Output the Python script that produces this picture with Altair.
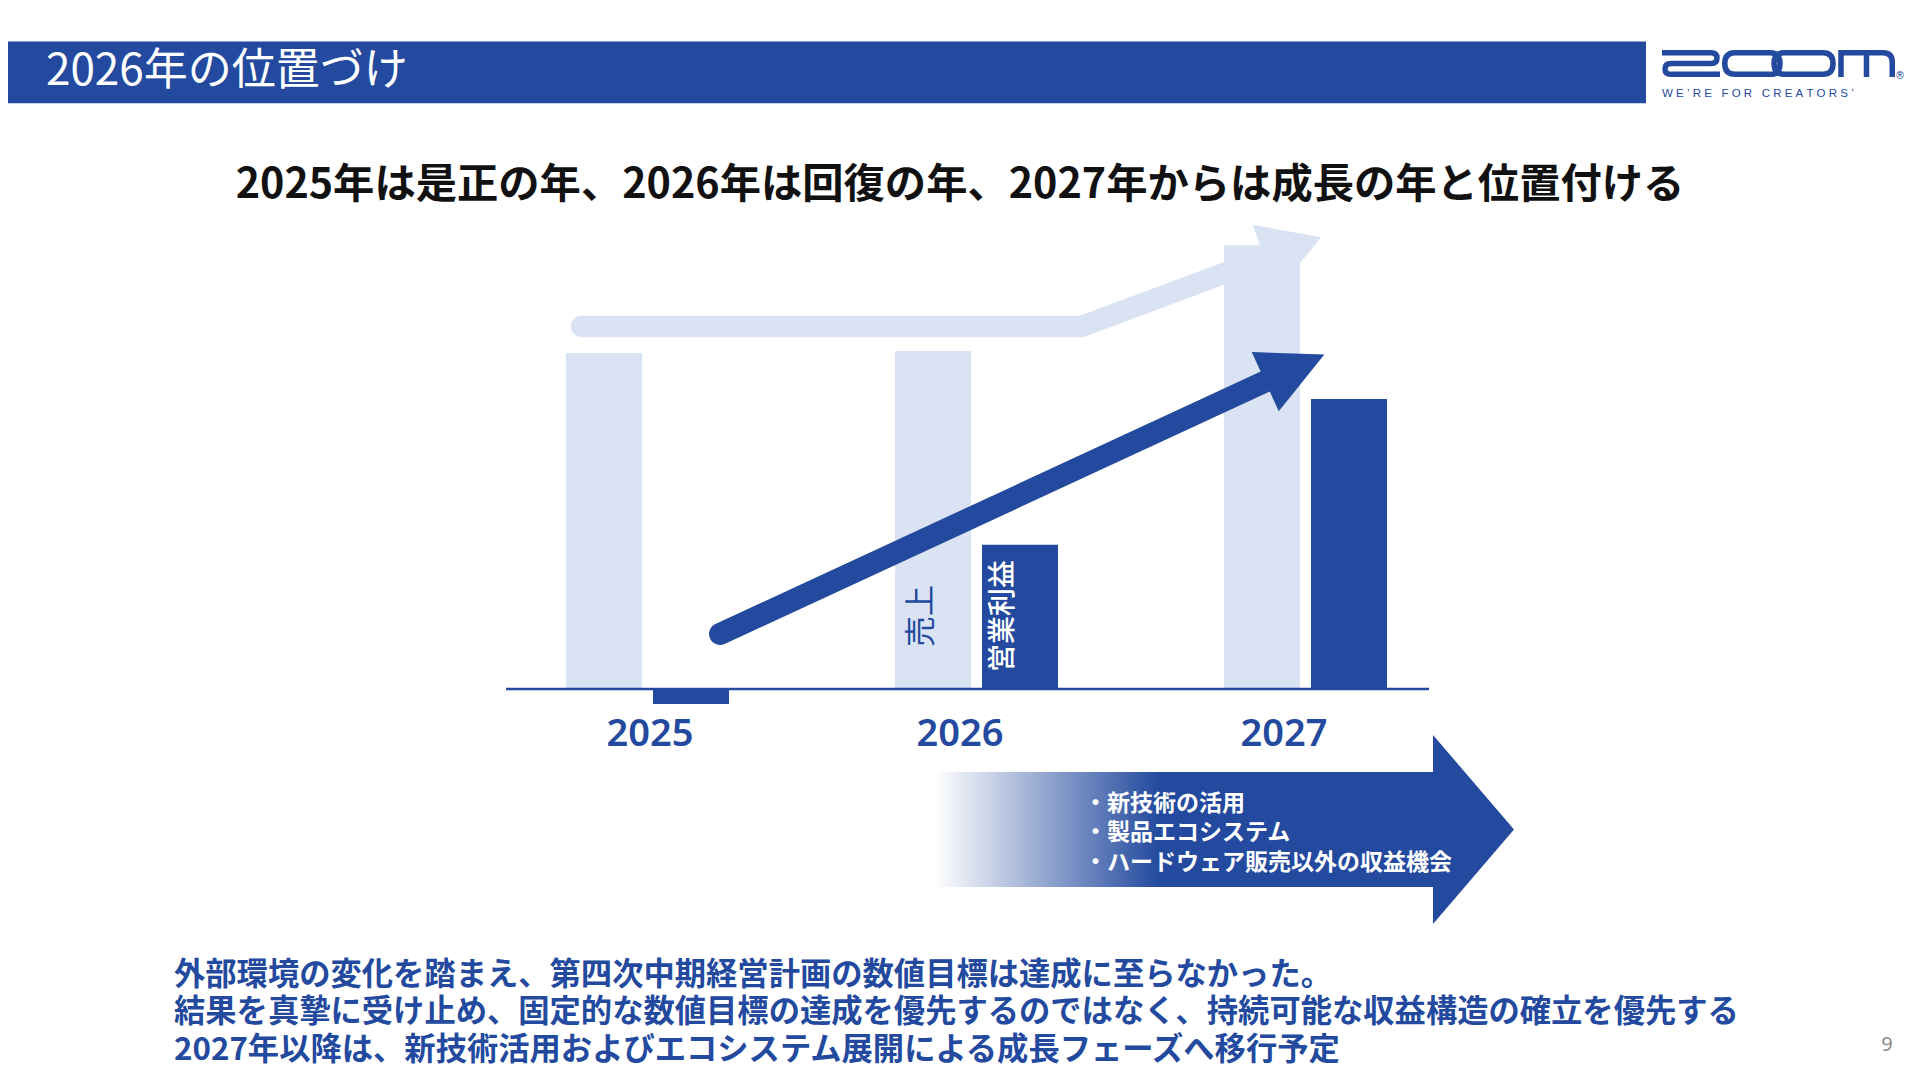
import altair as alt
import pandas as pd

# ---------------- data ----------------
YEARS = ["2025", "2026", "2027"]
SERIES = ["売上", "営業利益"]
SALES = [100.0, 100.6, 132.1]       # index (2025 sales = 100)
OP_PROFIT = [-4.5, 42.9, 86.3]      # same index units

HEADER_TITLE = "2026年の位置づけ"
SUBTITLE = "2025年は是正の年、2026年は回復の年、2027年からは成長の年と位置付ける"
ARROW_LINES = ["・新技術の活用", "・製品エコシステム", "・ハードウェア販売以外の収益機会"]
NOTE_LINES = [
    "外部環境の変化を踏まえ、第四次中期経営計画の数値目標は達成に至らなかった。",
    "結果を真摯に受け止め、固定的な数値目標の達成を優先するのではなく、持続可能な収益構造の確立を優先する",
    "2027年以降は、新技術活用およびエコシステム展開による成長フェーズへ移行予定",
]
PAGE_NO = "9"
LOGO_TAG_WORDS = ["WE’RE", "FOR", "CREATORS’"]

# ---------------- style / layout ----------------
FONT = "Noto Sans CJK JP"
DARK = "#234A9E"
LIGHT = "#DAE3F3"
W, H = 1904, 1064
BASE_Y = 689          # page y of the zero line
PX_PER_UNIT = 3.36
YEAR_LABEL_DX = [2.5, -16.5, -21.5]   # label nudges relative to group centre

rows = []
for y, s, p in zip(YEARS, SALES, OP_PROFIT):
    rows.append({"year": y, "series": SERIES[0], "value": s})
    rows.append({"year": y, "series": SERIES[1], "value": p})
bar_df = pd.DataFrame(rows)

# page-pixel scales for decorative layers
XS = alt.Scale(domain=[8, 8 + W], nice=False, zero=False)
YS = alt.Scale(domain=[8 + H, 8], nice=False, zero=False)
XP = alt.X("x:Q", scale=XS, axis=None)
YP = alt.Y("y:Q", scale=YS, axis=None)

# bar-chart scales
BX = alt.Scale(domain=YEARS, range=[475, 1462], paddingInner=0, paddingOuter=0)
BXO = alt.Scale(domain=SERIES, range=[83, 246], paddingInner=11 / 87, paddingOuter=0)
BY = alt.Scale(domain=[-(8 + H - BASE_Y) / PX_PER_UNIT, (BASE_Y - 8) / PX_PER_UNIT],
               nice=False, zero=False)


def pt(x, y):
    return pd.DataFrame({"x": [x], "y": [y]})


def ptext(x, y, text, font=FONT, **kw):
    return alt.Chart(pt(x, y)).mark_text(text=text, font=font, **kw).encode(x=XP, y=YP)


def spaced(words):
    nb = "\u00a0"
    return (nb * 3).join(nb.join(list(w)) for w in words)


# header band
header = alt.Chart(pd.DataFrame({"x": [8], "x2": [1646], "y": [41.5], "y2": [103.3]})).mark_rect(
    color=DARK).encode(x=XP, x2="x2:Q", y=YP, y2="y2:Q")
header_text = ptext(46, 72, HEADER_TITLE, align="left", baseline="middle", fontSize=44,
                    color="white")

# logo (stroked custom symbol, path units = px since size=4)
LOGO_PATH = (
    "M 0 2.75 L 49 2.75 Q 55 2.75 55 8.1 Q 55 13.5 49 13.5 L 9 13.5 Q 3 13.5 3 18.9 "
    "Q 3 24.25 9 24.25 L 58 24.25 "
    "M 73 2.75 L 108 2.75 Q 118 2.75 118 13.5 Q 118 24.25 108 24.25 L 73 24.25 "
    "Q 62.75 24.25 62.75 13.5 Q 62.75 2.75 73 2.75 Z "
    "M 122 2.75 L 161 2.75 Q 171 2.75 171 13.5 Q 171 24.25 161 24.25 L 122 24.25 "
    "Q 112 24.25 112 13.5 Q 112 2.75 122 2.75 Z "
    "M 179 27 L 179 2.75 L 221 2.75 Q 230.25 2.75 230.25 12 L 230.25 27 "
    "M 204.5 2.75 L 204.5 27"
)
logo = alt.Chart(pt(1662, 50)).mark_point(shape=LOGO_PATH, size=4, filled=False, opacity=1,
                                          color=DARK, strokeWidth=5.5).encode(x=XP, y=YP)
logo_tag = ptext(1662, 93.5, spaced(LOGO_TAG_WORDS), align="left", baseline="middle",
                 fontSize=11.5, color=DARK, font="Liberation Sans")
logo_reg = ptext(1900, 76, "®", align="center", baseline="middle", fontSize=10, color=DARK,
                 font="DejaVu Sans")

subtitle = ptext(960, 186, SUBTITLE, align="center", baseline="middle", fontSize=41.3,
                 fontWeight="bold", color="#111111")

# light (sales) arrow
light_line = alt.Chart(pd.DataFrame({"x": [581.5, 1081.5, 1268], "y": [326.5, 326.5, 257],
                                     "o": [0, 1, 2]})).mark_line(
    color=LIGHT, strokeWidth=21.3, strokeCap="round", strokeJoin="miter").encode(
    x=XP, y=YP, order="o:Q")
light_head = alt.Chart(pt(1293, 247.6)).mark_point(
    shape="M -0.845 -1 L 0.845 0 L -0.845 1 Z", size=5041, angle=339.7, filled=True,
    opacity=1, color=LIGHT, strokeWidth=0).encode(x=XP, y=YP)

# big gradient arrow: shaft (rect with gradient) + head (triangle symbol)
big_shaft = alt.Chart(pd.DataFrame({"x": [935], "x2": [1434], "y": [772], "y2": [887]})).mark_rect(
    color=alt.Gradient(gradient="linear", x1=0, x2=1, y1=0, y2=0,
                       stops=[alt.GradientStop(color="#ffffff", offset=0),
                              alt.GradientStop(color=DARK, offset=0.45),
                              alt.GradientStop(color=DARK, offset=1)])).encode(
    x=XP, x2="x2:Q", y=YP, y2="y2:Q")
big_head = alt.Chart(pt(1527.5, 829.5)).mark_point(
    shape="M -1 -1 L -0.143 0 L -1 1 Z", size=35721, filled=True, opacity=1,
    color=DARK, strokeWidth=0).encode(x=XP, y=YP)
arrow_text = ptext(1084, 803.5, ARROW_LINES, align="left", baseline="middle", fontSize=23,
                   lineHeight=29.5, color="white", fontWeight="bold")

notes = ptext(174, 975.5, NOTE_LINES, align="left", baseline="middle", fontSize=31.3,
              lineHeight=37.8, color=DARK, fontWeight="bold")
page_no = ptext(1887, 1045, PAGE_NO, align="center", baseline="middle", fontSize=20,
                color="#8c8c8c", font="Noto Sans")

back = alt.layer(header, header_text, logo, logo_tag, logo_reg, subtitle, light_line,
                 light_head, big_shaft, big_head, arrow_text, notes, page_no)

# ---------------- bars ----------------
bars = alt.Chart(bar_df).mark_bar().encode(
    x=alt.X("year:N", scale=BX, axis=None),
    xOffset=alt.XOffset("series:N", scale=BXO),
    y=alt.Y("value:Q", scale=BY, axis=None),
    color=alt.Color("series:N", scale=alt.Scale(domain=SERIES, range=[LIGHT, DARK]),
                    legend=None),
)
year_df = pd.DataFrame({"year": YEARS})
year_labels = [
    alt.Chart(year_df).transform_filter(alt.datum.year == yr).mark_text(
        font="Noto Sans", fontSize=38, fontWeight=600, color=DARK, baseline="middle",
        dy=46, dx=ddx
    ).encode(x=alt.X("year:N", scale=BX, axis=None),
             y=alt.YDatum(0, type="quantitative", scale=BY, axis=None),
             text="year:N")
    for yr, ddx in zip(YEARS, YEAR_LABEL_DX)
]
lab_df = pd.DataFrame({"year": [YEARS[1], YEARS[1]], "series": SERIES})
lab_sales = alt.Chart(lab_df).transform_filter(alt.datum.series == SERIES[0]).mark_text(
    font=FONT, fontSize=31, color=DARK, angle=270, align="left", baseline="middle",
    dx=42, dy=-11).encode(
    x=alt.X("year:N", scale=BX, axis=None), xOffset=alt.XOffset("series:N", scale=BXO),
    y=alt.YDatum(0, type="quantitative", scale=BY, axis=None), text="series:N")
lab_profit = alt.Chart(lab_df).transform_filter(alt.datum.series == SERIES[1]).mark_text(
    font=FONT, fontSize=28, color="white", angle=270, align="left", baseline="middle",
    fontWeight=500, dx=17, dy=-16).encode(
    x=alt.X("year:N", scale=BX, axis=None), xOffset=alt.XOffset("series:N", scale=BXO),
    y=alt.YDatum(0, type="quantitative", scale=BY, axis=None), text="series:N")
bar_group = alt.layer(bars, *year_labels, lab_sales, lab_profit)

# ---------------- front decorations ----------------
dark_line = alt.Chart(pd.DataFrame({"x": [720, 1268], "y": [634, 380.3], "o": [0, 1]})).mark_line(
    color=DARK, strokeWidth=22, strokeCap="round").encode(x=XP, y=YP, order="o:Q")
dark_head = alt.Chart(pt(1294.8, 368.1)).mark_point(
    shape="M -1 -1 L 1 0 L -1 1 Z", size=4225, angle=335.4, filled=True, opacity=1,
    color=DARK, strokeWidth=0).encode(x=XP, y=YP)
baseline = alt.Chart(pd.DataFrame({"x": [506], "x2": [1429], "y": [BASE_Y]})).mark_rule(
    color=DARK, strokeWidth=2.5).encode(x=XP, x2="x2:Q", y=YP)
front = alt.layer(dark_line, dark_head, baseline)

chart = alt.layer(back, bar_group, front).resolve_scale(
    x="independent", y="independent"
).properties(
    width=W, height=H, padding=0, autosize=alt.AutoSizeParams(type="none"),
    background="white",
).configure_view(stroke=None)

chart.save("out.html", embed_options={"renderer": "svg", "actions": False})
